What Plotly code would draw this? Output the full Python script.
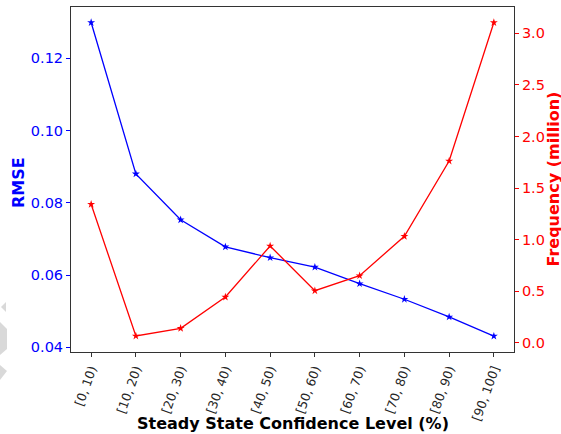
import plotly.graph_objects as go

# Confidence-level bins and the two measured series
categories = ["[0, 10)", "[10, 20)", "[20, 30)", "[30, 40)", "[40, 50)",
              "[50, 60)", "[60, 70)", "[70, 80)", "[80, 90)", "[90, 100]"]
rmse = [0.1299, 0.0880, 0.0753, 0.0678, 0.0648, 0.0622, 0.0576, 0.0533, 0.0484, 0.0431]
frequency_million = [1.342, 0.065, 0.140, 0.443, 0.938, 0.504, 0.650, 1.032, 1.762, 3.104]

rmse_ticks = [0.04, 0.06, 0.08, 0.10, 0.12]
freq_ticks = [0.0, 0.5, 1.0, 1.5, 2.0, 2.5, 3.0]

BLUE = "#0000ff"
RED = "#ff0000"
FRAME = "#333333"
TEXT = "#262626"
FONT = "DejaVu Sans"

x_idx = list(range(len(categories)))

fig = go.Figure()
fig.add_trace(go.Scatter(
    x=x_idx, y=rmse, mode="lines+markers", name="RMSE",
    line=dict(color=BLUE, width=1.3),
    marker=dict(symbol="star", size=6, color=BLUE),
    yaxis="y",
))
fig.add_trace(go.Scatter(
    x=x_idx, y=frequency_million, mode="lines+markers", name="Frequency",
    line=dict(color=RED, width=1.3),
    marker=dict(symbol="star", size=6, color=RED),
    yaxis="y2",
))

W, H = 561, 434
L, R, T, B = 71, 47, 7, 82
pw, ph = W - L - R, H - T - B


def px_to_paper(x, y):
    return (x - L) / pw, (H - B - y) / ph


def path(points):
    pts = [px_to_paper(x, y) for x, y in points]
    return "M " + " L ".join(f"{a:.4f},{b:.4f}" for a, b in pts) + " Z"


# faint grey mark at the lower-left edge
shapes = []
for poly in [
    [(6, 302), (6, 312), (1, 307)],
    [(0, 322), (7, 329), (7, 349), (0, 355)],
    [(0, 365), (7, 371), (0, 380)],
]:
    shapes.append(dict(type="path", xref="paper", yref="paper", path=path(poly),
                       fillcolor="#d9d9d9", line=dict(width=0), layer="below"))

fig.update_layout(
    width=W, height=H,
    margin=dict(l=L, r=R, t=T, b=B),
    paper_bgcolor="white", plot_bgcolor="white",
    showlegend=False,
    font=dict(family=FONT, size=14, color=TEXT),
    xaxis=dict(
        range=[-0.45, 9.45],
        tickmode="array", tickvals=x_idx, ticktext=categories,
        tickangle=-70,
        tickfont=dict(family=FONT, size=12.5, color=TEXT),
        ticks="outside", ticklen=4, tickwidth=1, tickcolor=FRAME,
        showline=True, linecolor=FRAME, linewidth=1, mirror=True,
        showgrid=False, zeroline=False,
    ),
    yaxis=dict(
        range=[0.0387, 0.1342],
        tickmode="array", tickvals=rmse_ticks,
        ticktext=[f"{v:.2f}" for v in rmse_ticks],
        tickfont=dict(family=FONT, size=14.5, color=BLUE),
        ticks="outside", ticklen=4, tickwidth=1, tickcolor=BLUE,
        showline=True, linecolor=FRAME, linewidth=1,
        showgrid=False, zeroline=False,
    ),
    yaxis2=dict(
        range=[-0.090, 3.255],
        overlaying="y", side="right",
        tickmode="array", tickvals=freq_ticks,
        ticktext=[f"{v:.1f}" for v in freq_ticks],
        tickfont=dict(family=FONT, size=14.5, color=RED),
        ticks="outside", ticklen=4, tickwidth=1, tickcolor=RED,
        showline=True, linecolor=FRAME, linewidth=1,
        showgrid=False, zeroline=False,
    ),
    shapes=shapes,
    annotations=[
        dict(text="<b>RMSE</b>", xref="paper", yref="paper",
             x=(19 - L) / pw, y=0.49, textangle=-90, showarrow=False,
             xanchor="center", yanchor="middle",
             font=dict(family=FONT, size=16, color=BLUE)),
        dict(text="<b>Frequency (million)</b>", xref="paper", yref="paper",
             x=(553 - L) / pw, y=0.5, textangle=-90, showarrow=False,
             xanchor="center", yanchor="middle",
             font=dict(family=FONT, size=16, color=RED)),
        dict(text="<b>Steady State Confidence Level (%)</b>", xref="paper", yref="paper",
             x=0.5, y=(H - B - 423) / ph, showarrow=False,
             xanchor="center", yanchor="middle",
             font=dict(family=FONT, size=16, color="#000000")),
    ],
)

fig.write_html("out.html")
